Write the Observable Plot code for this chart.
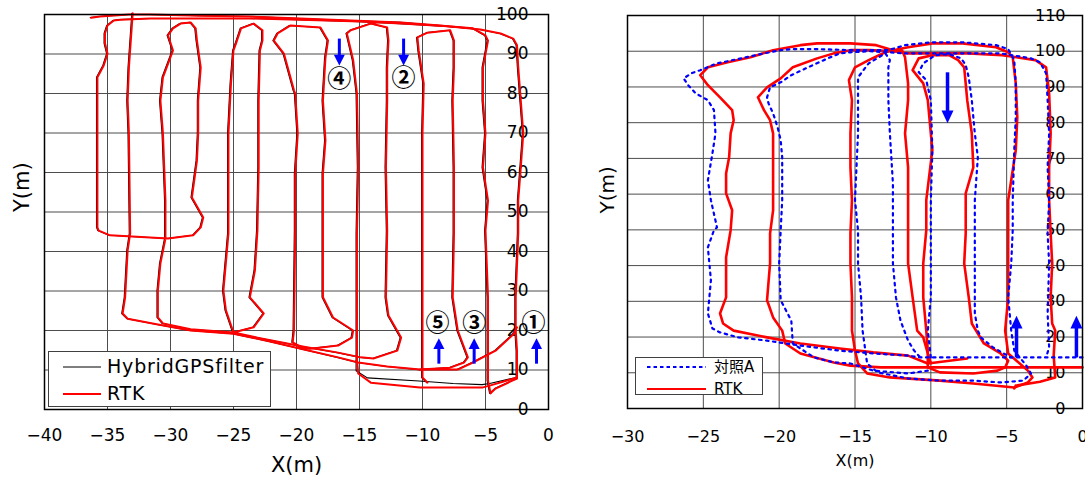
<!DOCTYPE html>
<html lang="ja"><head><meta charset="utf-8">
<script src="https://cdn.jsdelivr.net/npm/d3@7"></script>
<script src="https://cdn.jsdelivr.net/npm/@observablehq/plot@0.6"></script>
<style>
html,body{margin:0;padding:0;background:#fff;}
#chart{position:relative;width:1085px;height:478px;overflow:hidden;font-family:"DejaVu Sans",sans-serif;}
#left,#right{position:absolute;top:0;}
#left{left:0;}
#right{left:560px;}
.legend{position:absolute;background:#fff;border:1px solid #404040;box-sizing:border-box;}
.legend .item{position:absolute;white-space:nowrap;color:#000;font-family:"DejaVu Sans","Noto Sans CJK JP",sans-serif;}
.legend svg{position:absolute;left:0;top:0;overflow:visible;}
</style></head>
<body><div id="chart"><div id="left"></div><div id="right"></div></div>
<script>
// ---------- axes / labels ----------
const leftXTicks = [-40, -35, -30, -25, -20, -15, -10, -5, 0];
const leftYTicks = [0, 10, 20, 30, 40, 50, 60, 70, 80, 90, 100];
const rightXTicks = [-30, -25, -20, -15, -10, -5, 0];
const rightYTicks = [0, 10, 20, 30, 40, 50, 60, 70, 80, 90, 100, 110];
const leftSeries = ["HybridGPSfilter", "RTK"];
const rightSeries = ["対照A", "RTK"];

// ---------- left panel: RTK track pieces [x(m), y(m)] ----------
const rtkLeft1 = [[-4.6,4.1],[-4.2,5.3],[-3.0,7.1],[-2.5,7.8],[-2.5,14.9],[-2.6,20.0],[-2.6,28.4],[-2.4,44.6],[-2.4,52.9],[-2.2,61.3],[-2.0,69.9],[-2.2,78.2],[-2.4,86.6],[-2.5,92.2],[-2.8,93.9],[-3.8,95.2],[-5.4,96.2],[-8.6,97.2],[-11.7,98.0],[-15.7,98.5],[-19.7,99.0],[-23.7,99.5],[-27.6,99.7],[-31.6,100.0],[-33.3,100.0],[-35.6,99.5],[-36.3,99.2]];
const rtkLeft2 = [[-4.6,4.1],[-4.8,7.3],[-4.8,20.0],[-4.8,28.4],[-5.0,45.3],[-4.8,52.9],[-5.2,61.3],[-5.0,69.9],[-5.2,78.2],[-5.2,86.6],[-4.8,93.4],[-5.0,94.7],[-6.0,96.5],[-8.0,97.0],[-11.7,97.7],[-14.9,98.2],[-19.7,98.7],[-23.7,99.0],[-27.6,99.0],[-31.6,99.0],[-34.0,98.7],[-34.5,98.5],[-35.0,97.2],[-35.2,95.2],[-35.2,92.7],[-35.0,90.1],[-35.3,87.1],[-35.8,84.1],[-35.8,69.9],[-35.8,55.4],[-35.8,46.1],[-35.7,45.3],[-34.8,44.1],[-30.2,43.3],[-28.2,44.1],[-27.6,46.1],[-27.4,48.6],[-28.3,53.7],[-27.9,63.0],[-27.8,69.9],[-27.8,78.2],[-27.6,86.6],[-27.9,93.4],[-28.0,96.5],[-28.4,98.0],[-29.2,97.7],[-29.8,96.5],[-30.2,94.7],[-29.8,90.9],[-30.6,84.1],[-30.8,78.2],[-30.6,69.9],[-30.4,52.9],[-30.4,43.3],[-30.8,37.0],[-31.0,30.1],[-31.0,23.3],[-30.6,21.8],[-28.4,20.3],[-25.0,19.5],[-23.4,20.8],[-22.6,24.3],[-23.7,28.4],[-23.3,35.2],[-23.1,45.3],[-23.0,61.3],[-23.0,78.2],[-22.9,90.9],[-22.7,93.4],[-22.7,96.0],[-23.4,97.7],[-24.4,96.5],[-24.8,92.7],[-25.0,90.9],[-25.2,82.5],[-25.4,69.9],[-25.4,44.6],[-25.8,30.1],[-25.6,25.1],[-25.0,19.5],[-23.1,18.2],[-19.4,15.9],[-16.7,14.4],[-14.9,13.2],[-13.9,12.9],[-12.0,14.9],[-11.7,18.2],[-12.7,23.8],[-12.9,28.4],[-12.8,45.3],[-12.9,61.3],[-12.8,78.2],[-12.8,86.6],[-12.7,93.4],[-12.8,96.7],[-14.1,97.7],[-15.7,96.0],[-16.0,95.2],[-15.5,88.4],[-15.2,80.0],[-15.1,61.3],[-15.2,44.6],[-15.2,27.6],[-15.2,12.4]];
const rtkLeft2b = [[-15.2,12.4],[-15.1,9.1],[-14.1,6.8],[-10.2,5.6],[-7.5,5.6],[-5.2,5.6],[-4.6,6.1],[-2.5,8.1]];
const rtkLeft3 = [[-33.0,100.3],[-33.3,86.6],[-33.4,78.2],[-33.3,69.9],[-33.2,44.6],[-33.4,40.3],[-33.6,28.4],[-33.8,24.3],[-33.4,23.0],[-31.0,21.5],[-28.4,20.0],[-25.0,19.2],[-22.1,17.2],[-19.4,15.2],[-16.7,13.2],[-15.1,11.9],[-12.8,10.9],[-10.2,10.1],[-7.2,10.1],[-6.0,11.9],[-4.2,14.9],[-2.8,19.0],[-2.5,20.8]];
const rtkLeft4 = [[-19.4,15.4],[-20.3,17.0],[-20.2,20.0],[-20.1,45.3],[-20.1,59.7],[-19.9,69.9],[-20.1,80.0],[-20.2,80.8],[-21.0,90.1],[-21.8,93.4],[-21.5,95.2],[-20.5,97.2],[-18.1,96.7],[-17.5,93.4],[-17.7,89.1],[-17.9,78.2],[-17.7,68.1],[-17.9,59.7],[-17.9,44.6],[-17.9,28.4],[-17.1,23.3],[-15.5,20.0],[-15.6,18.2],[-16.7,16.2],[-18.9,15.4],[-19.9,15.7]];
const rtkLeft5 = [[-9.6,6.8],[-10.0,8.1],[-10.0,27.6],[-10.0,44.6],[-10.0,69.9],[-9.9,82.5],[-10.3,90.9],[-10.4,94.2],[-9.6,95.4],[-7.8,96.0],[-7.5,93.4],[-7.5,86.6],[-7.6,78.2],[-7.5,61.3],[-7.5,44.6],[-7.6,28.4],[-7.2,20.0],[-6.4,13.2],[-6.7,11.9],[-7.8,10.6],[-10.2,10.1]];
// HybridGPSfilter: follows RTK almost everywhere, differs on the bottom run
const hybridLeft2b = [[-15.2,12.4],[-15.2,9.8],[-14.3,8.0],[-10.2,7.2],[-7.5,6.6],[-5.2,6.3],[-4.6,6.6],[-2.5,8.1]];

// ---------- right panel ----------
const rtkRight1 = [[-7.6,14.0],[-10.2,12.6],[-11.5,14.8],[-13.8,15.7],[-16.0,16.8],[-18.6,18.2],[-20.8,19.9],[-23.0,21.8],[-23.7,23.8],[-23.9,26.6],[-23.5,31.1],[-23.5,42.3],[-23.2,49.9],[-23.1,55.5],[-23.5,60.2],[-23.5,65.8],[-23.3,70.3],[-23.2,77.0],[-23.0,80.7],[-23.1,83.5],[-23.9,87.1],[-24.7,90.5],[-25.2,93.3],[-24.7,95.5],[-23.4,96.9],[-21.9,98.3],[-20.4,100.3],[-18.6,101.7],[-17.5,102.2],[-15.3,102.2],[-13.6,101.7],[-12.5,100.3],[-11.5,101.1],[-9.9,102.2],[-7.9,102.2],[-5.7,101.1],[-4.9,99.7],[-4.6,98.3],[-4.4,91.0],[-4.3,81.5],[-4.4,72.3],[-4.9,58.3],[-4.9,49.0],[-4.9,40.6],[-4.9,31.1],[-5.1,21.8],[-4.9,15.4],[-3.6,10.6],[-3.3,8.7],[-3.6,7.3],[-4.5,5.9],[-7.2,7.0],[-9.4,7.8],[-12.7,8.7],[-14.2,9.8],[-14.8,12.6],[-15.0,16.2],[-15.2,21.8],[-15.2,31.1],[-15.3,40.6],[-15.3,49.0],[-15.2,58.3],[-15.3,67.5],[-15.3,77.0],[-15.2,86.3],[-15.4,91.9],[-15.0,95.5],[-14.1,97.5],[-13.0,99.7],[-12.5,100.3],[-11.9,100.3],[-11.7,98.3],[-11.5,91.0],[-11.5,86.3],[-11.7,77.0],[-11.5,67.5],[-11.5,58.3],[-11.5,49.0],[-11.5,40.6],[-11.2,31.1],[-10.9,21.8],[-10.5,19.9],[-10.2,15.4],[-10.0,12.6]];
const rtkRight2 = [[0,11.5],[-5.4,11.5],[-10.0,11.5],[-13.3,11.5],[-15.3,12.0],[-16.4,12.9],[-18.6,15.4],[-19.6,18.2],[-19.8,21.8],[-20.4,25.5],[-20.8,30.3],[-20.6,40.6],[-20.6,49.0],[-20.4,55.5],[-20.4,67.5],[-20.4,77.0],[-20.6,80.7],[-21.0,83.5],[-21.4,87.1],[-20.8,89.9],[-19.9,92.4],[-19.1,95.5],[-17.5,98.0],[-16.4,99.4],[-15.3,100.3],[-14.0,100.3],[-12.5,100.0],[-11.5,99.4],[-9.7,99.4],[-7.5,99.4],[-5.3,98.9],[-3.1,97.5],[-2.4,95.5],[-2.2,88.2],[-2.1,77.0],[-2.2,67.5],[-2.2,58.3],[-2.1,49.0],[-2.0,40.6],[-2.1,31.1],[-2.0,23.8],[-1.8,21.8],[-1.9,14.8],[-1.8,8.7],[-2.8,7.5],[-4.4,6.4],[-4.5,5.6]];
const rtkRight3 = [[-10.2,11.5],[-10.2,16.2],[-10.3,21.8],[-10.5,31.1],[-10.5,40.6],[-10.3,49.9],[-10.3,58.3],[-9.9,72.3],[-10.2,86.3],[-10.5,91.0],[-11.2,94.7],[-10.8,98.0],[-9.9,98.9],[-8.8,98.9],[-8.2,97.5],[-7.8,95.5],[-7.6,86.3],[-7.3,77.0],[-7.2,67.5],[-7.7,60.2],[-7.7,49.0],[-7.8,40.6],[-7.5,31.1],[-7.3,23.8],[-6.5,18.2],[-5.4,15.4],[-4.9,13.4],[-5.1,11.5],[-5.6,10.6],[-7.2,9.8],[-9.4,10.1],[-10.2,11.5]];
const refRight1 = [[0,14.3],[-9.6,14.3],[-10.7,14.3],[-11.5,14.8],[-13.8,15.4],[-16.0,16.2],[-18.6,17.6],[-20.8,19.0],[-22.7,19.9],[-23.9,21.3],[-24.4,22.4],[-24.7,26.6],[-24.5,35.9],[-24.7,45.1],[-24.3,49.9],[-24.1,50.7],[-24.5,58.3],[-24.7,63.9],[-24.4,71.4],[-24.2,77.0],[-24.3,83.5],[-24.7,86.3],[-25.5,88.2],[-26.0,90.5],[-26.3,92.4],[-25.8,93.8],[-25.2,94.7],[-24.1,96.6],[-22.5,98.0],[-21.0,99.4],[-19.9,100.3],[-19.1,100.6],[-17.5,100.6],[-15.3,100.3],[-12.8,100.3],[-11.7,101.7],[-10.0,102.5],[-7.9,102.5],[-5.7,101.7],[-4.9,100.6],[-4.5,97.5],[-4.4,91.0],[-4.4,81.5],[-4.5,72.3],[-4.6,58.3],[-4.6,49.9],[-4.7,40.6],[-4.9,31.1],[-4.7,21.8],[-4.5,16.2],[-3.7,12.0],[-3.4,9.8],[-3.9,7.8],[-5.4,7.3],[-7.2,7.8],[-9.4,7.8],[-11.5,8.4],[-13.5,10.1],[-14.2,12.6],[-14.5,21.8],[-14.6,31.1],[-14.8,40.6],[-14.8,49.9],[-15.0,58.3],[-14.8,77.0],[-14.8,88.2],[-14.8,92.7],[-14.1,96.6],[-13.0,99.4],[-12.7,97.5],[-12.8,95.5],[-12.8,86.3],[-12.7,77.0],[-12.5,63.0],[-12.5,58.3],[-12.5,49.0],[-12.5,40.6],[-12.3,31.1],[-12.0,24.6],[-11.5,19.0],[-11.1,16.2],[-10.7,14.3]];
const refRight2 = [[-10.2,10.6],[-11.5,9.8],[-13.8,10.6],[-15.3,12.6],[-16.4,12.9],[-17.7,14.3],[-19.1,18.2],[-19.2,24.6],[-19.9,30.3],[-20.0,40.6],[-19.9,49.9],[-19.8,58.3],[-19.8,65.8],[-19.8,70.3],[-19.9,75.1],[-20.1,78.7],[-20.4,82.6],[-20.7,85.4],[-20.8,87.1],[-20.6,89.9],[-19.9,91.3],[-19.2,93.3],[-18.1,95.5],[-16.8,98.0],[-16.0,99.4],[-15.3,99.7],[-14.0,100.0],[-12.8,99.7],[-11.7,99.4],[-9.7,99.4],[-7.4,99.4],[-5.4,99.4],[-3.4,98.0],[-2.8,96.9],[-2.4,93.8],[-2.3,86.3],[-2.2,77.0],[-2.3,67.5],[-2.2,58.3],[-2.3,49.0],[-2.2,40.6],[-2.3,26.6],[-2.2,17.1],[-2.4,14.3]];
const refRight3 = [[-10.0,14.3],[-10.2,21.8],[-10.0,31.1],[-10.0,40.6],[-10.0,49.9],[-10.0,58.3],[-9.9,72.3],[-10.0,86.3],[-10.3,91.9],[-10.8,94.1],[-10.5,96.6],[-9.7,98.9],[-8.8,99.2],[-8.0,98.0],[-7.7,96.1],[-7.5,92.7],[-7.3,86.3],[-7.1,77.0],[-6.9,70.3],[-7.1,58.3],[-7.1,49.0],[-7.1,26.6],[-6.9,21.8],[-6.7,19.9],[-5.9,17.1],[-5.2,15.4],[-4.7,14.3]];

// ---------- annotations ----------
const leftArrowX = [-16.6, -11.5, -8.7, -5.9, -0.95];
const leftArrowFrom = [93.9, 93.9, 11.6, 11.6, 11.6];
const leftArrowHead = [89.6, 89.6, 15.5, 15.5, 15.5];
const leftMarkText = ["④", "②", "⑤", "③", "①"];
const leftMarkX = [-16.6, -11.5, -8.8, -5.9, -1.2];
const leftMarkY = [83.5, 83.8, 21.8, 21.8, 21.8];
const rightArrowX = [-8.9, -4.35, -0.4];
const rightArrowFrom = [94.1, 14.3, 14.3];
const rightArrowHead = [83.2, 22.6, 22.6];

// ---------- helpers ----------
const RED = "#ff0000", BLUE = "#0000ff", GRID = "#4d4d4d";
const fmt = d => d < 0 ? "\u2212" + Math.abs(d) : String(d);
const toRows = segs => segs.flatMap((seg, i) => seg.map(([x, y]) => ({x, y, seg: i})));
function head(w, h, up) {
  return {draw(ctx) {
    const s = up ? -1 : 1;
    ctx.moveTo(0, s * h);
    ctx.lineTo(-w / 2, -s * 0.8);
    ctx.lineTo(w / 2, -s * 0.8);
    ctx.closePath();
  }};
}
function arrowMarks(xs, from, to, w, h, sw) {
  const rows = xs.map((x, i) => ({x, y1: from[i], y2: to[i], up: to[i] > from[i]}));
  return [
    Plot.link(rows, {x1: "x", x2: "x", y1: "y1", y2: "y2", stroke: BLUE, strokeWidth: sw}),
    Plot.dot(rows.filter(d => d.up), {x: "x", y: "y2", symbol: head(w, h, true), r: 5, fill: BLUE, stroke: "none"}),
    Plot.dot(rows.filter(d => !d.up), {x: "x", y: "y2", symbol: head(w, h, false), r: 5, fill: BLUE, stroke: "none"})
  ];
}
const baseStyle = {fontFamily: "'DejaVu Sans', sans-serif", overflow: "visible", background: "transparent", color: "#000"};

// ---------- left chart ----------
const rtkLeft = [rtkLeft1, rtkLeft2, rtkLeft2b, rtkLeft3, rtkLeft4, rtkLeft5];
const hybridLeft = [rtkLeft1, rtkLeft2, hybridLeft2b, rtkLeft3, rtkLeft4, rtkLeft5];
const leftPlot = Plot.plot({
  width: 560, height: 478,
  marginLeft: 44, marginRight: 12, marginTop: 14, marginBottom: 69,
  x: {domain: [-40, 0], axis: null},
  y: {domain: [0, 100], axis: null},
  style: baseStyle,
  marks: [
    Plot.ruleX(leftXTicks.filter(d => d > -40 && d < 0), {stroke: GRID, strokeWidth: 1}),
    Plot.ruleY(leftYTicks.filter(d => d > 0 && d < 100), {stroke: GRID, strokeWidth: 1}),
    Plot.text(leftYTicks, {x: 0, y: d => d, text: fmt, dx: -20, textAnchor: "end", fontSize: 17, fill: "#000"}),
    Plot.text(leftXTicks, {x: d => d, y: 0, text: fmt, dy: 26, lineAnchor: "middle", fontSize: 17, fill: "#000"}),
    Plot.text(["X(m)"], {frameAnchor: "bottom", dy: 56, text: d => d, fontSize: 21, lineAnchor: "middle", fill: "#000"}),
    Plot.text(["Y(m)"], {frameAnchor: "left", dx: -22, rotate: -90, text: d => d, fontSize: 21, fill: "#000"}),
    Plot.line(toRows(hybridLeft), {x: "x", y: "y", z: "seg", stroke: "#000", strokeWidth: 1.1, dx: -0.9}),
    Plot.line(toRows(rtkLeft), {x: "x", y: "y", z: "seg", stroke: RED, strokeWidth: 2}),
    Plot.frame({stroke: "#000", strokeWidth: 1.5}),
    ...arrowMarks(leftArrowX, leftArrowFrom, leftArrowHead, 11, 10, 3),
    Plot.text(leftMarkText, {x: (d, i) => leftMarkX[i], y: (d, i) => leftMarkY[i], text: d => d, fontSize: 24, fontWeight: "bold", fontFamily: "'Noto Sans CJK JP', sans-serif", fill: "#000"})
  ]
});
document.getElementById("left").appendChild(leftPlot);

// ---------- right chart ----------
const rtkRight = [rtkRight1, rtkRight2, rtkRight3];
const refRight = [refRight1, refRight2, refRight3];
const rightPlot = Plot.plot({
  width: 525, height: 478,
  marginLeft: 67, marginRight: 3, marginTop: 15, marginBottom: 70,
  x: {domain: [-30, 0], axis: null},
  y: {domain: [0, 110], axis: null},
  style: baseStyle,
  marks: [
    Plot.ruleX(rightXTicks.filter(d => d > -30 && d < 0), {stroke: GRID, strokeWidth: 1}),
    Plot.ruleY(rightYTicks.filter(d => d > 0 && d < 110), {stroke: GRID, strokeWidth: 1}),
    Plot.text(rightYTicks, {x: 0, y: d => d, text: fmt, dx: -17, textAnchor: "end", fontSize: 16, fill: "#000"}),
    Plot.text(rightXTicks, {x: d => d, y: 0, text: fmt, dy: 28.5, lineAnchor: "middle", fontSize: 16, fill: "#000"}),
    Plot.text(["X(m)"], {frameAnchor: "bottom", dy: 52, text: d => d, fontSize: 16, lineAnchor: "middle", fill: "#000"}),
    Plot.text(["Y(m)"], {frameAnchor: "left", dx: -20, dy: 1.5, rotate: -90, text: d => d, fontSize: 20, fill: "#000"}),
    Plot.line(toRows(rtkRight), {x: "x", y: "y", z: "seg", stroke: RED, strokeWidth: 2.6}),
    Plot.line(toRows(refRight), {x: "x", y: "y", z: "seg", stroke: BLUE, strokeWidth: 2.2, strokeDasharray: "2.5,4.5"}),
    Plot.frame({stroke: "#000", strokeWidth: 1.5}),
    ...arrowMarks(rightArrowX, rightArrowFrom, rightArrowHead, 12, 12, 3.5)
  ]
});
document.getElementById("right").appendChild(rightPlot);

// ---------- legends ----------
function addLegend(box, items, fontSize, letterSpacing) {
  const div = document.createElement("div");
  div.className = "legend";
  Object.assign(div.style, {left: box.left + "px", top: box.top + "px", width: box.width + "px", height: box.height + "px"});
  const ns = "http://www.w3.org/2000/svg";
  const svg = document.createElementNS(ns, "svg");
  svg.setAttribute("width", box.width); svg.setAttribute("height", box.height);
  items.forEach(it => {
    const ln = document.createElementNS(ns, "line");
    ln.setAttribute("x1", box.sx1); ln.setAttribute("x2", box.sx2);
    ln.setAttribute("y1", it.y); ln.setAttribute("y2", it.y);
    ln.setAttribute("stroke", it.stroke); ln.setAttribute("stroke-width", it.width);
    if (it.dash) ln.setAttribute("stroke-dasharray", it.dash);
    svg.appendChild(ln);
  });
  div.appendChild(svg);
  items.forEach(it => {
    const t = document.createElement("div");
    t.className = "item";
    t.textContent = it.label;
    Object.assign(t.style, {left: box.tx + "px", top: (it.y - fontSize * 0.62) + "px", fontSize: fontSize + "px", lineHeight: (fontSize * 1.2) + "px", letterSpacing: letterSpacing + "px"});
    div.appendChild(t);
  });
  document.getElementById("chart").appendChild(div);
}
addLegend({left: 48, top: 351, width: 223, height: 56, sx1: 14, sx2: 52, tx: 58},
  [{label: leftSeries[0], stroke: "#000", width: 1.2, y: 15},
   {label: leftSeries[1], stroke: RED, width: 2, y: 42}], 19, 0.8);
addLegend({left: 635, top: 357, width: 128, height: 38, sx1: 11, sx2: 70, tx: 78},
  [{label: rightSeries[0], stroke: BLUE, width: 2.2, dash: "3.5,3", y: 9},
   {label: rightSeries[1], stroke: RED, width: 2.2, y: 31}], 15, 0);
</script></body></html>
